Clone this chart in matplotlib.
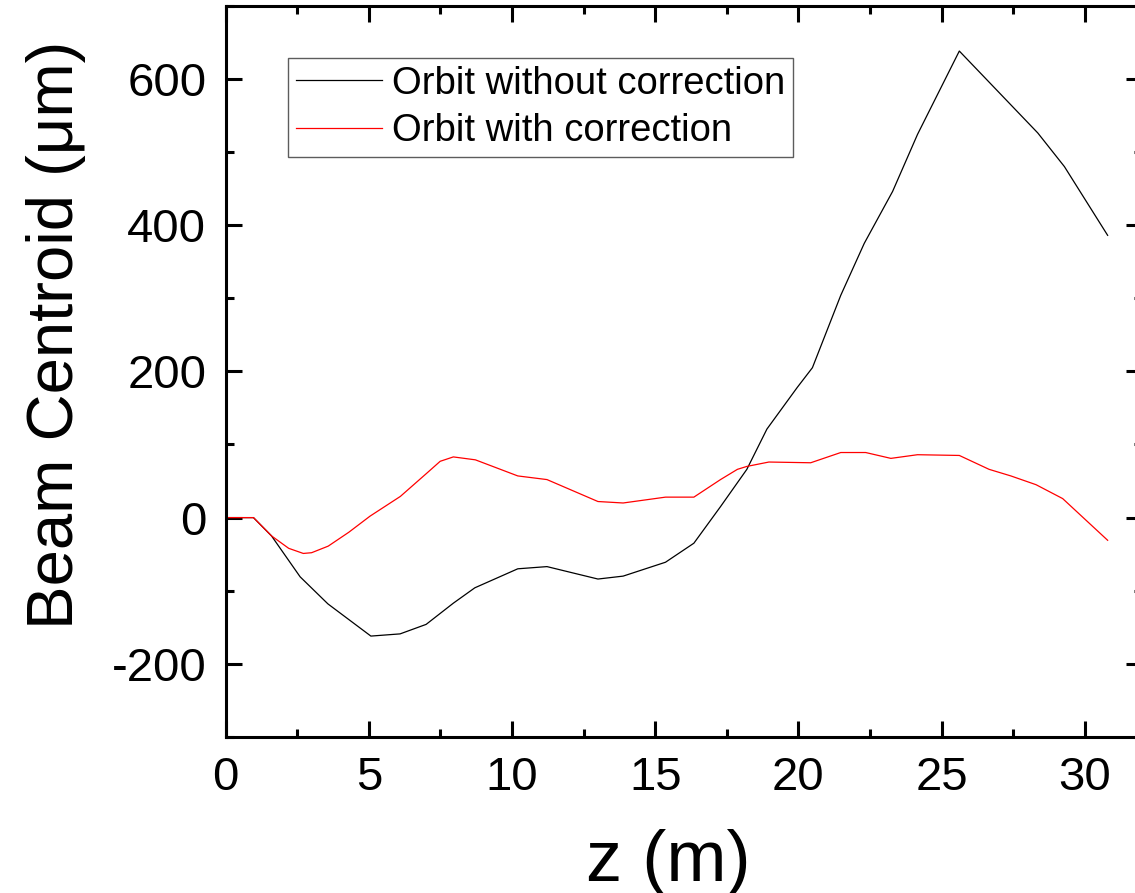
import matplotlib
matplotlib.use('Agg')
import matplotlib.pyplot as plt
from matplotlib.ticker import MultipleLocator

plt.rcParams['font.family'] = ['Liberation Sans', 'DejaVu Sans']
plt.rcParams['axes.unicode_minus'] = False

# orbit without correction (z in m, centroid in um)
z_nocorr = [0.0, 0.97, 1.6, 2.6, 3.57, 5.07, 6.09, 7.0, 7.95, 8.7, 10.2, 11.22,
            13.0, 13.88, 15.36, 16.35, 17.28, 18.2, 18.9, 19.96, 20.49, 21.48,
            22.3, 23.29, 24.16, 25.62, 26.55, 28.36, 29.29, 30.8]
y_nocorr = [0, 0, -25, -81, -118, -162, -159, -146, -117, -96, -70, -67,
            -84, -80, -61, -35, 15, 66, 121, 178, 205, 304,
            375, 446, 524, 638, 600, 526, 480, 386]

# orbit with correction
z_corr = [0.0, 0.97, 1.6, 2.2, 2.71, 3.0, 3.58, 4.3, 5.04, 6.1, 7.03, 7.49, 7.95,
          8.72, 10.2, 11.22, 13.0, 13.88, 15.36, 16.35, 17.28, 17.87, 18.2, 18.97,
          20.43, 21.48, 22.35, 23.23, 24.16, 25.62, 26.66, 27.42, 28.3, 29.23, 30.8]
y_corr = [0, 0, -25, -42, -49, -48, -39, -20, 2, 29, 61, 77, 83,
          79, 57, 52, 22, 20, 28, 28, 52, 66, 70, 76,
          75, 89, 89, 81, 86, 85, 66, 57, 45, 26, -31]

fig = plt.figure(figsize=(11.35, 8.93), dpi=100)
ax = fig.add_axes([225.7/1135, 156/893, 916.3/1135, 731.3/893])

ax.plot(z_nocorr, y_nocorr, color='black', lw=0.9, label='Orbit without correction')
ax.plot(z_corr, y_corr, color='red', lw=0.9, label='Orbit with correction')

ax.set_xlim(0, 32)
ax.set_ylim(-300, 700)
ax.xaxis.set_major_locator(MultipleLocator(5))
ax.xaxis.set_minor_locator(MultipleLocator(2.5))
ax.yaxis.set_major_locator(MultipleLocator(200))
ax.yaxis.set_minor_locator(MultipleLocator(100))

for s in ax.spines.values():
    s.set_linewidth(2.2)
ax.tick_params(which='both', direction='in', top=True, right=True, width=2.2,
               labelsize=34, pad=14)
ax.tick_params(which='major', length=11.5)
ax.tick_params(which='minor', length=5.8)

ax.set_xlabel('z (m)', fontsize=52, va='top')
ax.xaxis.set_label_coords(0.4827, -0.126)
ax.set_ylabel('Beam Centroid (\u03bcm)', fontsize=47)
ax.yaxis.set_label_coords(-0.1525, 0.5497)

leg = ax.legend(loc='upper left', bbox_to_anchor=(0.068, 0.9285), borderaxespad=0,
                fontsize=27.5, frameon=True, fancybox=False, borderpad=0.2,
                handlelength=2.26, handletextpad=0.26, labelspacing=0.3)
leg.get_frame().set_edgecolor('#333333')
leg.get_frame().set_linewidth(1.0)

fig.savefig('out.png', dpi=100)
